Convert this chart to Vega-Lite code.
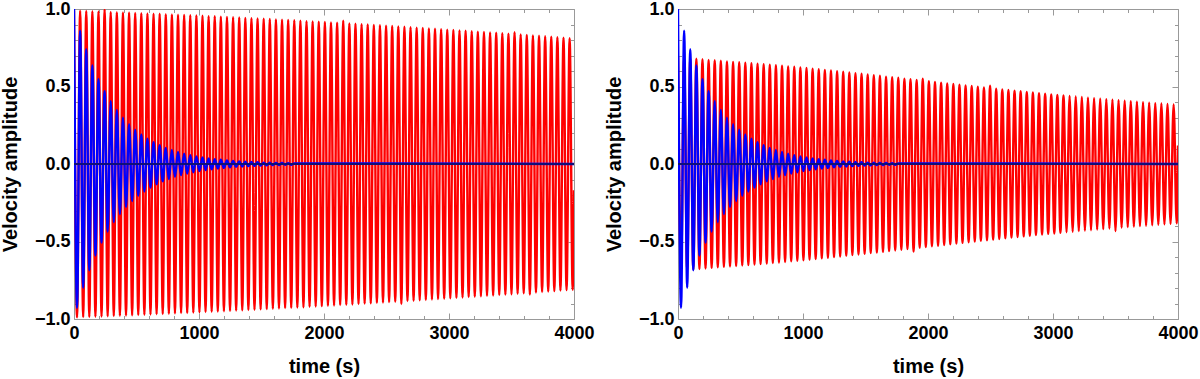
{
"$schema":"https://vega.github.io/schema/vega-lite/v6.json",
"background":"white",
"padding":{"left":0,"top":0,"right":0,"bottom":0},
"spacing":9,
"config":{"view":{"stroke":null},"axis":{"labelFont":"Liberation Sans","labelFontSize":18,"labelFontWeight":"bold","labelColor":"black","titleFont":"Liberation Sans","titleFontSize":20,"titleFontWeight":"bold","titleColor":"black","tickColor":"#999999","domainColor":"#999999","grid":false,"labelOverlap":false,"labelFlush":false}},
"datasets":{
"L":[
{"t":0,"r":0.990,"b":1.000},{"t":24.5,"r":-0.989,"b":-0.927},{"t":49,"r":0.989,"b":0.860},{"t":73.4,"r":-0.988,"b":-0.798},{"t":97.9,"r":0.987,"b":0.740},{"t":122.4,"r":-0.987,"b":-0.686},{"t":146.9,"r":0.986,"b":0.636},{"t":171.3,"r":-0.985,"b":-0.590},{"t":195.8,"r":0.984,"b":0.547},{"t":220.3,"r":-0.984,"b":-0.507},
{"t":244.8,"r":0.998,"b":0.470},{"t":269.2,"r":-0.982,"b":-0.436},{"t":293.7,"r":0.981,"b":0.405},{"t":318.2,"r":-0.981,"b":-0.375},{"t":342.7,"r":0.980,"b":0.348},{"t":367.1,"r":-0.979,"b":-0.323},{"t":391.6,"r":0.978,"b":0.299},{"t":416.1,"r":-0.977,"b":-0.278},{"t":440.6,"r":0.977,"b":0.257},{"t":465,"r":-0.976,"b":-0.239},
{"t":489.5,"r":0.975,"b":0.221},{"t":514,"r":-0.974,"b":-0.205},{"t":538.5,"r":0.973,"b":0.190},{"t":562.9,"r":-0.973,"b":-0.177},{"t":587.4,"r":0.972,"b":0.164},{"t":611.9,"r":-0.971,"b":-0.152},{"t":636.4,"r":0.970,"b":0.141},{"t":660.8,"r":-0.969,"b":-0.131},{"t":685.3,"r":0.969,"b":0.121},{"t":709.8,"r":-0.968,"b":-0.112},
{"t":734.3,"r":0.967,"b":0.104},{"t":758.7,"r":-0.966,"b":-0.097},{"t":783.2,"r":0.965,"b":0.090},{"t":807.7,"r":-0.964,"b":-0.083},{"t":832.2,"r":0.963,"b":0.077},{"t":856.6,"r":-0.962,"b":-0.072},{"t":881.1,"r":0.962,"b":0.066},{"t":905.6,"r":-0.961,"b":-0.062},{"t":930.1,"r":0.960,"b":0.057},{"t":954.5,"r":-0.959,"b":-0.053},
{"t":979,"r":0.958,"b":0.049},{"t":1003.5,"r":-0.957,"b":-0.046},{"t":1028,"r":0.956,"b":0.042},{"t":1052.4,"r":-0.955,"b":-0.039},{"t":1076.9,"r":0.954,"b":0.036},{"t":1101.4,"r":-0.953,"b":-0.034},{"t":1125.9,"r":0.953,"b":0.031},{"t":1150.3,"r":-0.952,"b":-0.029},{"t":1174.8,"r":0.951,"b":0.027},{"t":1199.3,"r":-0.950,"b":-0.025},
{"t":1223.8,"r":0.949,"b":0.023},{"t":1248.2,"r":-0.948,"b":-0.021},{"t":1272.7,"r":0.947,"b":0.020},{"t":1297.2,"r":-0.946,"b":-0.018},{"t":1321.7,"r":0.945,"b":0.017},{"t":1346.1,"r":-0.944,"b":-0.016},{"t":1370.6,"r":0.943,"b":0.015},{"t":1395.1,"r":-0.942,"b":-0.014},{"t":1419.6,"r":0.941,"b":0.013},{"t":1444,"r":-0.940,"b":-0.012},
{"t":1468.5,"r":0.939,"b":0.011},{"t":1493,"r":-0.938,"b":-0.010},{"t":1517.5,"r":0.937,"b":0.009},{"t":1541.9,"r":-0.936,"b":-0.009},{"t":1566.4,"r":0.935,"b":0.008},{"t":1590.9,"r":-0.934,"b":-0.007},{"t":1615.4,"r":0.933,"b":0.007},{"t":1639.8,"r":-0.932,"b":-0.006},{"t":1664.3,"r":0.931,"b":0.006},{"t":1688.8,"r":-0.930,"b":-0.005},
{"t":1713.3,"r":0.929,"b":0.005},{"t":1737.7,"r":-0.928,"b":-0.005},{"t":1762.2,"r":0.927,"b":0.004},{"t":1786.7,"r":-0.926},{"t":1811.2,"r":0.925},{"t":1835.6,"r":-0.924},{"t":1860.1,"r":0.922},{"t":1884.6,"r":-0.921},{"t":1909.1,"r":0.920},{"t":1933.5,"r":-0.919},
{"t":1958,"r":0.918},{"t":1982.5,"r":-0.917},{"t":2007,"r":0.916},{"t":2031.4,"r":-0.915},{"t":2055.9,"r":0.914},{"t":2080.4,"r":-0.913},{"t":2104.9,"r":0.911},{"t":2129.3,"r":-0.910},{"t":2153.8,"r":0.924},{"t":2178.3,"r":-0.908},
{"t":2202.8,"r":0.907},{"t":2227.2,"r":-0.906},{"t":2251.7,"r":0.905},{"t":2276.2,"r":-0.903},{"t":2300.7,"r":0.902},{"t":2325.1,"r":-0.901},{"t":2349.6,"r":0.900},{"t":2374.1,"r":-0.899},{"t":2398.6,"r":0.897},{"t":2423,"r":-0.896},
{"t":2447.5,"r":0.895},{"t":2472,"r":-0.894},{"t":2496.5,"r":0.893},{"t":2520.9,"r":-0.891},{"t":2545.4,"r":0.890},{"t":2569.9,"r":-0.889},{"t":2594.4,"r":0.888},{"t":2618.8,"r":-0.903},{"t":2643.3,"r":0.885},{"t":2667.8,"r":-0.884},
{"t":2692.3,"r":0.883},{"t":2716.7,"r":-0.882},{"t":2741.2,"r":0.880},{"t":2765.7,"r":-0.879},{"t":2790.2,"r":0.878},{"t":2814.6,"r":-0.877},{"t":2839.1,"r":0.875},{"t":2863.6,"r":-0.874},{"t":2888.1,"r":0.873},{"t":2912.5,"r":-0.871},
{"t":2937,"r":0.870},{"t":2961.5,"r":-0.869},{"t":2986,"r":0.867},{"t":3010.4,"r":-0.866},{"t":3034.9,"r":0.865},{"t":3059.4,"r":-0.864},{"t":3083.9,"r":0.862},{"t":3108.3,"r":-0.861},{"t":3132.8,"r":0.860},{"t":3157.3,"r":-0.858},
{"t":3181.8,"r":0.857},{"t":3206.2,"r":-0.856},{"t":3230.7,"r":0.854},{"t":3255.2,"r":-0.853},{"t":3279.7,"r":0.852},{"t":3304.1,"r":-0.851},{"t":3328.6,"r":0.849},{"t":3353.1,"r":-0.848},{"t":3377.6,"r":0.847},{"t":3402,"r":-0.845},
{"t":3426.5,"r":0.844},{"t":3451,"r":-0.843},{"t":3475.5,"r":0.841},{"t":3499.9,"r":-0.840},{"t":3524.4,"r":0.850},{"t":3548.9,"r":-0.837},{"t":3573.4,"r":0.836},{"t":3597.8,"r":-0.834},{"t":3622.3,"r":0.833},{"t":3646.8,"r":-0.843},
{"t":3671.3,"r":0.830},{"t":3695.7,"r":-0.829},{"t":3720.2,"r":0.827},{"t":3744.7,"r":-0.826},{"t":3769.2,"r":0.824},{"t":3793.6,"r":-0.823},{"t":3818.1,"r":0.821},{"t":3842.6,"r":-0.820},{"t":3867.1,"r":0.818},{"t":3891.5,"r":-0.817},
{"t":3916,"r":0.815},{"t":3940.5,"r":-0.814},{"t":3965,"r":0.812},{"t":3989.4,"r":-0.811},{"t":4000,"r":-0.170,"b":0}
],
"R":[
{"t":0,"r":0.690,"b":1.000},{"t":24.5,"r":-0.688,"b":-0.927},{"t":49,"r":0.686,"b":0.860},{"t":73.4,"r":-0.685,"b":-0.798},{"t":97.9,"r":0.683,"b":0.740},{"t":122.4,"r":-0.681,"b":-0.686},{"t":146.9,"r":0.679,"b":0.636},{"t":171.3,"r":-0.677,"b":-0.590},{"t":195.8,"r":0.676,"b":0.547},{"t":220.3,"r":-0.674,"b":-0.507},
{"t":244.8,"r":0.672,"b":0.470},{"t":269.2,"r":-0.670,"b":-0.436},{"t":293.7,"r":0.669,"b":0.405},{"t":318.2,"r":-0.667,"b":-0.375},{"t":342.7,"r":0.666,"b":0.348},{"t":367.1,"r":-0.664,"b":-0.323},{"t":391.6,"r":0.662,"b":0.299},{"t":416.1,"r":-0.661,"b":-0.278},{"t":440.6,"r":0.659,"b":0.257},{"t":465,"r":-0.658,"b":-0.239},
{"t":489.5,"r":0.656,"b":0.221},{"t":514,"r":-0.655,"b":-0.205},{"t":538.5,"r":0.653,"b":0.190},{"t":562.9,"r":-0.652,"b":-0.177},{"t":587.4,"r":0.650,"b":0.164},{"t":611.9,"r":-0.649,"b":-0.152},{"t":636.4,"r":0.647,"b":0.141},{"t":660.8,"r":-0.646,"b":-0.131},{"t":685.3,"r":0.644,"b":0.121},{"t":709.8,"r":-0.643,"b":-0.112},
{"t":734.3,"r":0.641,"b":0.104},{"t":758.7,"r":-0.639,"b":-0.097},{"t":783.2,"r":0.637,"b":0.090},{"t":807.7,"r":-0.636,"b":-0.083},{"t":832.2,"r":0.634,"b":0.077},{"t":856.6,"r":-0.632,"b":-0.072},{"t":881.1,"r":0.630,"b":0.066},{"t":905.6,"r":-0.628,"b":-0.062},{"t":930.1,"r":0.627,"b":0.057},{"t":954.5,"r":-0.625,"b":-0.053},
{"t":979,"r":0.623,"b":0.049},{"t":1003.5,"r":-0.621,"b":-0.046},{"t":1028,"r":0.619,"b":0.042},{"t":1052.4,"r":-0.617,"b":-0.039},{"t":1076.9,"r":0.615,"b":0.036},{"t":1101.4,"r":-0.613,"b":-0.034},{"t":1125.9,"r":0.611,"b":0.031},{"t":1150.3,"r":-0.609,"b":-0.029},{"t":1174.8,"r":0.607,"b":0.027},{"t":1199.3,"r":-0.605,"b":-0.025},
{"t":1223.8,"r":0.603,"b":0.023},{"t":1248.2,"r":-0.601,"b":-0.021},{"t":1272.7,"r":0.599,"b":0.020},{"t":1297.2,"r":-0.597,"b":-0.018},{"t":1321.7,"r":0.595,"b":0.017},{"t":1346.1,"r":-0.593,"b":-0.016},{"t":1370.6,"r":0.590,"b":0.015},{"t":1395.1,"r":-0.588,"b":-0.014},{"t":1419.6,"r":0.586,"b":0.013},{"t":1444,"r":-0.584,"b":-0.012},
{"t":1468.5,"r":0.582,"b":0.011},{"t":1493,"r":-0.580,"b":-0.010},{"t":1517.5,"r":0.578,"b":0.009},{"t":1541.9,"r":-0.575,"b":-0.009},{"t":1566.4,"r":0.573,"b":0.008},{"t":1590.9,"r":-0.571,"b":-0.007},{"t":1615.4,"r":0.569,"b":0.007},{"t":1639.8,"r":-0.567,"b":-0.006},{"t":1664.3,"r":0.564,"b":0.006},{"t":1688.8,"r":-0.562,"b":-0.005},
{"t":1713.3,"r":0.560,"b":0.005},{"t":1737.7,"r":-0.558,"b":-0.005},{"t":1762.2,"r":0.556,"b":0.004},{"t":1786.7,"r":-0.553},{"t":1811.2,"r":0.551},{"t":1835.6,"r":-0.549},{"t":1860.1,"r":0.547},{"t":1884.6,"r":-0.565},{"t":1909.1,"r":0.542},{"t":1933.5,"r":-0.540},
{"t":1958,"r":0.550},{"t":1982.5,"r":-0.536},{"t":2007,"r":0.534},{"t":2031.4,"r":-0.531},{"t":2055.9,"r":0.529},{"t":2080.4,"r":-0.527},{"t":2104.9,"r":0.525},{"t":2129.3,"r":-0.523},{"t":2153.8,"r":0.520},{"t":2178.3,"r":-0.518},
{"t":2202.8,"r":0.516},{"t":2227.2,"r":-0.514},{"t":2251.7,"r":0.512},{"t":2276.2,"r":-0.509},{"t":2300.7,"r":0.507},{"t":2325.1,"r":-0.505},{"t":2349.6,"r":0.503},{"t":2374.1,"r":-0.501},{"t":2398.6,"r":0.498},{"t":2423,"r":-0.496},
{"t":2447.5,"r":0.494},{"t":2472,"r":-0.492},{"t":2496.5,"r":0.505},{"t":2520.9,"r":-0.488},{"t":2545.4,"r":0.486},{"t":2569.9,"r":-0.484},{"t":2594.4,"r":0.481},{"t":2618.8,"r":-0.479},{"t":2643.3,"r":0.477},{"t":2667.8,"r":-0.475},
{"t":2692.3,"r":0.473},{"t":2716.7,"r":-0.471},{"t":2741.2,"r":0.469},{"t":2765.7,"r":-0.467},{"t":2790.2,"r":0.465},{"t":2814.6,"r":-0.463},{"t":2839.1,"r":0.461},{"t":2863.6,"r":-0.459},{"t":2888.1,"r":0.457},{"t":2912.5,"r":-0.455},
{"t":2937,"r":0.453},{"t":2961.5,"r":-0.451},{"t":2986,"r":0.449},{"t":3010.4,"r":-0.448},{"t":3034.9,"r":0.446},{"t":3059.4,"r":-0.444},{"t":3083.9,"r":0.442},{"t":3108.3,"r":-0.440},{"t":3132.8,"r":0.439},{"t":3157.3,"r":-0.437},
{"t":3181.8,"r":0.435},{"t":3206.2,"r":-0.433},{"t":3230.7,"r":0.432},{"t":3255.2,"r":-0.430},{"t":3279.7,"r":0.428},{"t":3304.1,"r":-0.427},{"t":3328.6,"r":0.425},{"t":3353.1,"r":-0.423},{"t":3377.6,"r":0.421},{"t":3402,"r":-0.420},
{"t":3426.5,"r":0.418},{"t":3451,"r":-0.416},{"t":3475.5,"r":0.415},{"t":3499.9,"r":-0.433},{"t":3524.4,"r":0.412},{"t":3548.9,"r":-0.410},{"t":3573.4,"r":0.408},{"t":3597.8,"r":-0.407},{"t":3622.3,"r":0.405},{"t":3646.8,"r":-0.404},
{"t":3671.3,"r":0.402},{"t":3695.7,"r":-0.401},{"t":3720.2,"r":0.399},{"t":3744.7,"r":-0.398},{"t":3769.2,"r":0.396},{"t":3793.6,"r":-0.395},{"t":3818.1,"r":0.393},{"t":3842.6,"r":-0.392},{"t":3867.1,"r":0.390},{"t":3891.5,"r":-0.389},
{"t":3916,"r":0.387},{"t":3940.5,"r":-0.386},{"t":3965,"r":0.384},{"t":3989.4,"r":-0.383},{"t":4000,"r":0.120,"b":0}
]
},
"hconcat":[
{"width":500,"height":310,"data":{"name":"L"},
"layer":[
{"mark":{"type":"line","color":"#ff0000","strokeWidth":2.4,"interpolate":"monotone","clip":true},
"encoding":{"x":{"field":"t","type":"quantitative","scale":{"domain":[0,4000],"nice":false,"zero":false},
"axis":{"orient":"bottom","values":[0,200,400,600,800,1000,1200,1400,1600,1800,2000,2200,2400,2600,2800,3000,3200,3400,3600,3800,4000],"format":"d","labelExpr":"datum.value % 1000 === 0 ? datum.label : ''","title":"time (s)","labelPadding":11,"titlePadding":12,"tickSize":{"condition":{"test":"datum.value % 1000 === 0","value":-6},"value":-3.5}}},
"y":{"field":"r","type":"quantitative","scale":{"domain":[-1,1],"nice":false,"zero":false},
"axis":{"orient":"left","values":[-1,-0.9,-0.8,-0.7,-0.6,-0.5,-0.4,-0.3,-0.2,-0.1,0,0.1,0.2,0.3,0.4,0.5,0.6,0.7,0.8,0.9,1],"format":".1f","labelExpr":"abs(datum.value*2 - round(datum.value*2)) < 0.001 ? datum.label : ''","title":"Velocity amplitude","labelPadding":10,"titlePadding":14,"tickSize":{"condition":{"test":"abs(datum.value*2 - round(datum.value*2)) < 0.001","value":-6},"value":-3.5}}}}},
{"transform":[{"filter":"isValid(datum.b)"}],
"mark":{"type":"line","color":"#0000ff","strokeWidth":2.4,"interpolate":"monotone","clip":true},
"encoding":{"x":{"field":"t","type":"quantitative","axis":{"orient":"top","values":[0,200,400,600,800,1000,1200,1400,1600,1800,2000,2200,2400,2600,2800,3000,3200,3400,3600,3800,4000],"labels":false,"title":null,"tickSize":{"condition":{"test":"datum.value % 1000 === 0","value":-6},"value":-3.5}}},
"y":{"field":"b","type":"quantitative","axis":{"orient":"right","values":[-1,-0.9,-0.8,-0.7,-0.6,-0.5,-0.4,-0.3,-0.2,-0.1,0,0.1,0.2,0.3,0.4,0.5,0.6,0.7,0.8,0.9,1],"labels":false,"title":null,"tickSize":{"condition":{"test":"abs(datum.value*2 - round(datum.value*2)) < 0.001","value":-6},"value":-3.5}}}}},
{"mark":{"type":"rule","color":"#10107a","strokeWidth":1.4},"encoding":{"y":{"datum":0,"type":"quantitative","axis":null}}}
],
"resolve":{"axis":{"x":"independent","y":"independent"}}},
{"width":500,"height":310,"data":{"name":"R"},
"layer":[
{"mark":{"type":"line","color":"#ff0000","strokeWidth":2.4,"interpolate":"monotone","clip":true},
"encoding":{"x":{"field":"t","type":"quantitative","scale":{"domain":[0,4000],"nice":false,"zero":false},
"axis":{"orient":"bottom","values":[0,200,400,600,800,1000,1200,1400,1600,1800,2000,2200,2400,2600,2800,3000,3200,3400,3600,3800,4000],"format":"d","labelExpr":"datum.value % 1000 === 0 ? datum.label : ''","title":"time (s)","labelPadding":11,"titlePadding":12,"tickSize":{"condition":{"test":"datum.value % 1000 === 0","value":-6},"value":-3.5}}},
"y":{"field":"r","type":"quantitative","scale":{"domain":[-1,1],"nice":false,"zero":false},
"axis":{"orient":"left","values":[-1,-0.9,-0.8,-0.7,-0.6,-0.5,-0.4,-0.3,-0.2,-0.1,0,0.1,0.2,0.3,0.4,0.5,0.6,0.7,0.8,0.9,1],"format":".1f","labelExpr":"abs(datum.value*2 - round(datum.value*2)) < 0.001 ? datum.label : ''","title":"Velocity amplitude","labelPadding":10,"titlePadding":14,"tickSize":{"condition":{"test":"abs(datum.value*2 - round(datum.value*2)) < 0.001","value":-6},"value":-3.5}}}}},
{"transform":[{"filter":"isValid(datum.b)"}],
"mark":{"type":"line","color":"#0000ff","strokeWidth":2.4,"interpolate":"monotone","clip":true},
"encoding":{"x":{"field":"t","type":"quantitative","axis":{"orient":"top","values":[0,200,400,600,800,1000,1200,1400,1600,1800,2000,2200,2400,2600,2800,3000,3200,3400,3600,3800,4000],"labels":false,"title":null,"tickSize":{"condition":{"test":"datum.value % 1000 === 0","value":-6},"value":-3.5}}},
"y":{"field":"b","type":"quantitative","axis":{"orient":"right","values":[-1,-0.9,-0.8,-0.7,-0.6,-0.5,-0.4,-0.3,-0.2,-0.1,0,0.1,0.2,0.3,0.4,0.5,0.6,0.7,0.8,0.9,1],"labels":false,"title":null,"tickSize":{"condition":{"test":"abs(datum.value*2 - round(datum.value*2)) < 0.001","value":-6},"value":-3.5}}}}},
{"mark":{"type":"rule","color":"#10107a","strokeWidth":1.4},"encoding":{"y":{"datum":0,"type":"quantitative","axis":null}}}
],
"resolve":{"axis":{"x":"independent","y":"independent"}}}
]
}
